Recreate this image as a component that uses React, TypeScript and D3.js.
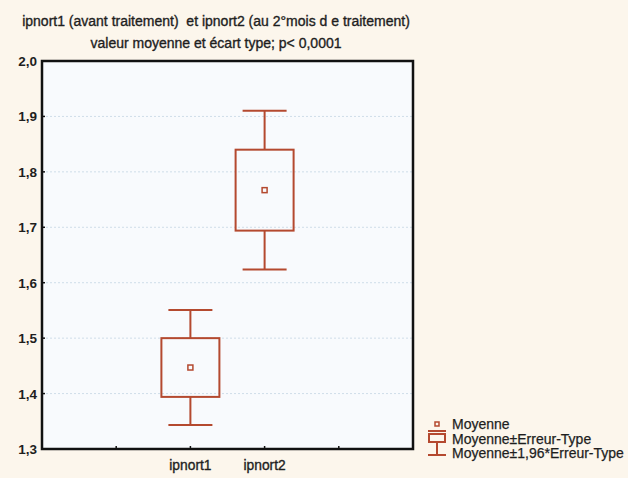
import React from "react";
import * as d3 from "d3";

const categories = ["ipnort1", "ipnort2"];
const catPositions = [2, 3];
const means = [1.447, 1.767];
const stdErrors = [0.053, 0.073];
const yTicks = [1.3, 1.4, 1.5, 1.6, 1.7, 1.8, 1.9, 2.0];
const titleLines = [
  "ipnort1 (avant traitement)  et ipnort2 (au 2°mois d e traitement)",
  "valeur moyenne et écart type; p< 0,0001",
];
const legendLabels = ["Moyenne", "Moyenne±Erreur-Type", "Moyenne±1,96*Erreur-Type"];

const W = 628, H = 478;
const left = 42, right = 413, top = 61, bottom = 449;
const COLOR = "#b4492f";
const FONT = "'Liberation Sans', Arial, sans-serif";
const TXT = { fontFamily: FONT, fill: "#1e1e1e", stroke: "#1e1e1e", strokeWidth: 0.35 };

export default function App() {
  const y = d3.scaleLinear().domain([1.3, 2.0]).range([bottom, top]);
  const x = d3.scaleLinear().domain([0, 5]).range([left, right]);
  const fmt = (v: number) => d3.format(".1f")(v).replace(".", ",");
  const boxHalf = 29, capHalf = 22;
  return (
    <svg width={W} height={H} style={{ position: "absolute", left: 0, top: 0 }}>
      <rect x={0} y={0} width={W} height={H} fill="#fcf6ec" />
      <rect x={left} y={top} width={right - left} height={bottom - top} fill="#f8fafd" />
      {yTicks.slice(1, -1).map((t) => (
        <line key={"g" + t} x1={left} x2={right} y1={y(t)} y2={y(t)} stroke="#cfdde9" strokeDasharray="2,2" strokeWidth={1} />
      ))}
      {titleLines.map((s, i) => (
        <text key={i} x={216} y={26 + i * 22} textAnchor="middle" fontSize={14} {...TXT} style={{ whiteSpace: "pre" }}>{s}</text>
      ))}
      {yTicks.map((t) => (
        <g key={"t" + t}>
          <line x1={left} x2={left + 3} y1={y(t)} y2={y(t)} stroke="#111" strokeWidth={1.5} />
          <text x={37} y={y(t) + 5} textAnchor="end" fontSize={13.5} fontWeight="bold" {...TXT} strokeWidth={0}>{fmt(t)}</text>
        </g>
      ))}
      {[1, 2, 3, 4].map((p) => (
        <line key={"x" + p} x1={x(p)} x2={x(p)} y1={bottom} y2={bottom - 3} stroke="#111" strokeWidth={1.5} />
      ))}
      {categories.map((c, i) => (
        <text key={c} x={x(catPositions[i])} y={470} textAnchor="middle" fontSize={13.8} {...TXT}>{c}</text>
      ))}
      {categories.map((c, i) => {
        const cx = x(catPositions[i]);
        const m = means[i], se = stdErrors[i];
        const bTop = y(m + se), bBot = y(m - se);
        const wTop = y(m + 1.96 * se), wBot = y(m - 1.96 * se);
        return (
          <g key={"b" + c} stroke={COLOR} strokeWidth={2} fill="none">
            <line x1={cx} x2={cx} y1={wTop} y2={bTop} />
            <line x1={cx} x2={cx} y1={bBot} y2={wBot} />
            <line x1={cx - capHalf} x2={cx + capHalf} y1={wTop} y2={wTop} />
            <line x1={cx - capHalf} x2={cx + capHalf} y1={wBot} y2={wBot} />
            <rect x={cx - boxHalf} y={bTop} width={boxHalf * 2} height={bBot - bTop} />
            <rect x={cx - 2.5} y={y(m) - 2.5} width={5} height={5} strokeWidth={1.5} />
          </g>
        );
      })}
      <rect x={left} y={top} width={right - left} height={bottom - top} fill="none" stroke="#111" strokeWidth={2.5} />
      <g stroke={COLOR} fill="none" strokeWidth={2}>
        <rect x={435} y={422} width={4} height={4} strokeWidth={1.5} />
        <rect x={429} y={434} width={16} height={8} />
        <line x1={437} x2={437} y1={442} y2={455} />
        <line x1={428} x2={446} y1={455} y2={455} />
        <line x1={428} x2={446} y1={431} y2={431} />
      </g>
      {legendLabels.map((s, i) => (
        <text key={s} x={452} y={429 + i * 14.5} fontSize={14} {...TXT} strokeWidth={0.25}>{s}</text>
      ))}
    </svg>
  );
}
